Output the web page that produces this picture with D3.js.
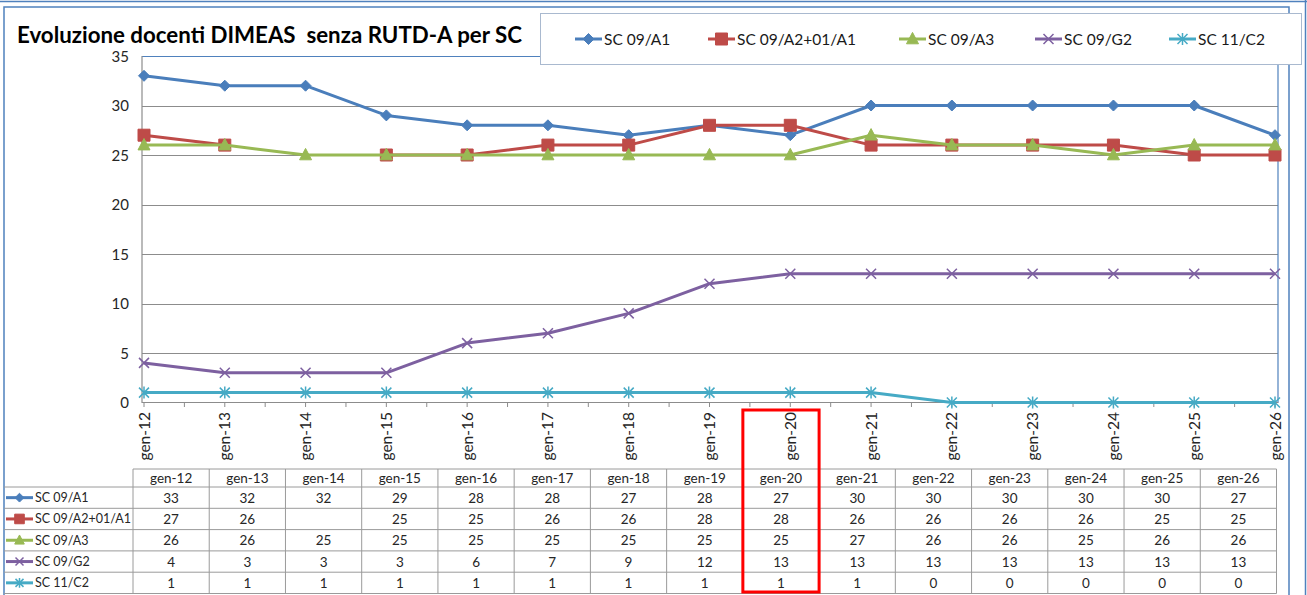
<!DOCTYPE html>
<html>
<head>
<meta charset="utf-8">
<script src="https://cdn.jsdelivr.net/npm/d3@7"></script>
<style>
  body { margin: 0; background: #fff; }
  svg { display: block; font-family: Lato, "Open Sans", sans-serif; }
</style>
</head>
<body>
<svg id="chart" width="1307" height="595"></svg>
<script>
const categories = ["gen-12","gen-13","gen-14","gen-15","gen-16","gen-17","gen-18","gen-19","gen-20","gen-21","gen-22","gen-23","gen-24","gen-25","gen-26"];
const sc09A1 = [33,32,32,29,28,28,27,28,27,30,30,30,30,30,27];
const sc09A2 = [27,26,null,25,25,26,26,28,28,26,26,26,26,25,25];
const sc09A3 = [26,26,25,25,25,25,25,25,25,27,26,26,25,26,26];
const sc09G2 = [4,3,3,3,6,7,9,12,13,13,13,13,13,13,13];
const sc11C2 = [1,1,1,1,1,1,1,1,1,1,0,0,0,0,0];
const yTicks = [0,5,10,15,20,25,30,35];
const highlighted = "gen-20";

const series = [
  { name: "SC 09/A1", values: sc09A1, color: "#4a7ebb", marker: "diamond" },
  { name: "SC 09/A2+01/A1", values: sc09A2, color: "#be4b48", marker: "square" },
  { name: "SC 09/A3", values: sc09A3, color: "#98b954", marker: "triangle" },
  { name: "SC 09/G2", values: sc09G2, color: "#7d60a0", marker: "x" },
  { name: "SC 11/C2", values: sc11C2, color: "#46aac5", marker: "star" }
];

const svg = d3.select("#chart");
const gridColor = "#8c8c8c";
const frameColor = "#4f81bd";

// outer frames
svg.append("line").attr("x1", 0).attr("x2", 1307).attr("y1", 1.5).attr("y2", 1.5)
  .attr("stroke", frameColor).attr("stroke-width", 1.5);
svg.append("line").attr("x1", 1305.5).attr("x2", 1305.5).attr("y1", 0).attr("y2", 595)
  .attr("stroke", frameColor).attr("stroke-width", 1.5);
svg.append("rect").attr("x", 4).attr("y", 7).attr("width", 1285).attr("height", 600)
  .attr("fill", "none").attr("stroke", frameColor).attr("stroke-width", 1.5);

// scales
const x = d3.scalePoint().domain(categories).range([144, 1275]);
const y = d3.scaleLinear().domain([0, 35]).range([402.5, 56]);
const step = x.step();

// gridlines
svg.append("g").selectAll("line").data(yTicks.filter(d => d > 0)).join("line")
  .attr("x1", 142).attr("x2", 1278)
  .attr("y1", d => Math.round(y(d)) + 0.5).attr("y2", d => Math.round(y(d)) + 0.5)
  .attr("stroke", gridColor).attr("stroke-width", 1.2);

// plot area border top/right
svg.append("line").attr("x1", 142).attr("x2", 1278).attr("y1", 56.5).attr("y2", 56.5)
  .attr("stroke", frameColor).attr("stroke-width", 1.2);
svg.append("line").attr("x1", 1278).attr("x2", 1278).attr("y1", 56).attr("y2", 403)
  .attr("stroke", frameColor).attr("stroke-width", 1.2);

// y axis
svg.append("line").attr("x1", 142).attr("x2", 142).attr("y1", 56).attr("y2", 403)
  .attr("stroke", gridColor).attr("stroke-width", 1.2);
svg.append("g").selectAll("text").data(yTicks).join("text")
  .attr("x", 129).attr("y", d => y(d) + 5.5)
  .attr("text-anchor", "end").attr("font-size", 15).attr("fill", "#262626")
  .text(d => d);

// x axis
svg.append("line").attr("x1", 142).attr("x2", 1278).attr("y1", 402.5).attr("y2", 402.5)
  .attr("stroke", gridColor).attr("stroke-width", 1.2);
const tickPos = d3.range(0, categories.length * 2 - 1).map(i => x(categories[0]) + i * step / 2);
svg.append("g").selectAll("line").data(tickPos).join("line")
  .attr("x1", d => d).attr("x2", d => d).attr("y1", 402.5).attr("y2", 407)
  .attr("stroke", gridColor);
svg.append("g").selectAll("text").data(categories).join("text")
  .attr("transform", d => `translate(${x(d) + 5.5},412) rotate(-90)`)
  .attr("text-anchor", "end").attr("font-size", 15.5).attr("fill", "#262626")
  .text(d => d);

// markers
function markerPath(type, size) {
  const s = size;
  switch (type) {
    case "diamond": return `M0,${-s}L${s},0L0,${s}L${-s},0Z`;
    case "square": return `M${-s},${-s}H${s}V${s}H${-s}Z`;
    case "triangle": return `M0,${-s * 1.1}L${s},${s * 0.8}L${-s},${s * 0.8}Z`;
    case "x": return `M${-s},${-s}L${s},${s}M${-s},${s}L${s},${-s}`;
    case "star": return `M${-s},${-s}L${s},${s}M${-s},${s}L${s},${-s}M0,${-s * 1.2}V${s * 1.2}`;
  }
}
const markerSize = { diamond: 5.5, square: 6, triangle: 6, x: 5, star: 5 };

const line = d3.line()
  .defined(d => d.v !== null)
  .x(d => x(d.c)).y(d => y(d.v));

series.forEach(s => {
  const pts = categories.map((c, i) => ({ c, v: s.values[i] }));
  const g = svg.append("g");
  g.append("path").datum(pts).attr("d", line)
    .attr("fill", "none").attr("stroke", s.color).attr("stroke-width", 3)
    .attr("stroke-linejoin", "round");
  const filled = s.marker !== "x" && s.marker !== "star";
  g.selectAll("path.m").data(pts.filter(d => d.v !== null)).join("path")
    .attr("class", "m")
    .attr("transform", d => `translate(${x(d.c)},${y(d.v)})`)
    .attr("d", markerPath(s.marker, markerSize[s.marker]))
    .attr("fill", filled ? s.color : "none")
    .attr("stroke", s.color).attr("stroke-width", filled ? 1 : 1.5);
});

// title
svg.append("text").attr("x", 17).attr("y", 43)
  .attr("font-size", 23).attr("font-weight", "bold").attr("fill", "#000")
  .attr("textLength", 505).attr("lengthAdjust", "spacingAndGlyphs")
  .text("Evoluzione docenti DIMEAS  senza RUTD-A per SC").style("white-space", "pre");

// legend
svg.append("rect").attr("x", 540.5).attr("y", 13.5).attr("width", 761).attr("height", 51)
  .attr("fill", "#fff").attr("stroke", "#a9b9cf").attr("stroke-width", 1);
const legendX = [575, 708, 899, 1035, 1169];
series.forEach((s, i) => {
  const g = svg.append("g").attr("transform", `translate(${legendX[i]},39)`);
  g.append("line").attr("x1", 0).attr("x2", 27).attr("stroke", s.color).attr("stroke-width", 3);
  const filled = s.marker !== "x" && s.marker !== "star";
  g.append("path").attr("transform", "translate(13.5,0)")
    .attr("d", markerPath(s.marker, markerSize[s.marker]))
    .attr("fill", filled ? s.color : "none").attr("stroke", s.color)
    .attr("stroke-width", filled ? 1 : 1.5);
  g.append("text").attr("x", 29).attr("y", 5.5).attr("font-size", 15.5).attr("fill", "#1a1a1a")
    .text(s.name);
});

// data table
const tx = d3.scaleBand().domain(categories).range([133, 1276.5]);
const rowTops = [469, 487, 508.3, 529.6, 550.9, 572.2, 593.5];
const tableColor = "#9a9a9a";
const tg = svg.append("g");
// header row
tg.append("line").attr("x1", 133).attr("x2", 1276.5).attr("y1", rowTops[0]).attr("y2", rowTops[0])
  .attr("stroke", tableColor);
rowTops.slice(1).forEach(ry => {
  tg.append("line").attr("x1", 4).attr("x2", 1276.5).attr("y1", ry).attr("y2", ry)
    .attr("stroke", tableColor);
});
tg.selectAll("line.v").data(categories.concat(["end"])).join("line")
  .attr("class", "v")
  .attr("x1", (d, i) => i < categories.length ? tx(d) : tx.range()[1])
  .attr("x2", (d, i) => i < categories.length ? tx(d) : tx.range()[1])
  .attr("y1", rowTops[0]).attr("y2", rowTops[6])
  .attr("stroke", tableColor);
tg.selectAll("text.h").data(categories).join("text")
  .attr("class", "h")
  .attr("x", d => tx(d) + tx.bandwidth() / 2).attr("y", rowTops[0] + 13.5)
  .attr("text-anchor", "middle").attr("font-size", 13.5).attr("fill", "#262626")
  .text(d => d);
series.forEach((s, r) => {
  const top = rowTops[r + 1], mid = (top + rowTops[r + 2]) / 2;
  tg.selectAll(`text.r${r}`).data(categories).join("text")
    .attr("class", `r${r}`)
    .attr("x", d => tx(d) + tx.bandwidth() / 2).attr("y", mid + 5)
    .attr("text-anchor", "middle").attr("font-size", 13.5).attr("fill", "#262626")
    .text((d, i) => s.values[i] === null ? "" : s.values[i]);
  const k = tg.append("g").attr("transform", `translate(6,${mid})`);
  k.append("line").attr("x1", 0).attr("x2", 27).attr("stroke", s.color).attr("stroke-width", 3);
  const filled = s.marker !== "x" && s.marker !== "star";
  k.append("path").attr("transform", "translate(13.5,0)")
    .attr("d", markerPath(s.marker, markerSize[s.marker] * 0.8))
    .attr("fill", filled ? s.color : "none").attr("stroke", s.color)
    .attr("stroke-width", filled ? 1 : 1.5);
  k.append("text").attr("x", 29).attr("y", 4.5).attr("font-size", 12.5).attr("fill", "#262626")
    .text(s.name);
});

// highlight box
svg.append("rect")
  .attr("x", tx(highlighted)).attr("y", 410)
  .attr("width", tx.bandwidth()).attr("height", 182)
  .attr("fill", "none").attr("stroke", "#ff0000").attr("stroke-width", 3);
</script>
</body>
</html>
